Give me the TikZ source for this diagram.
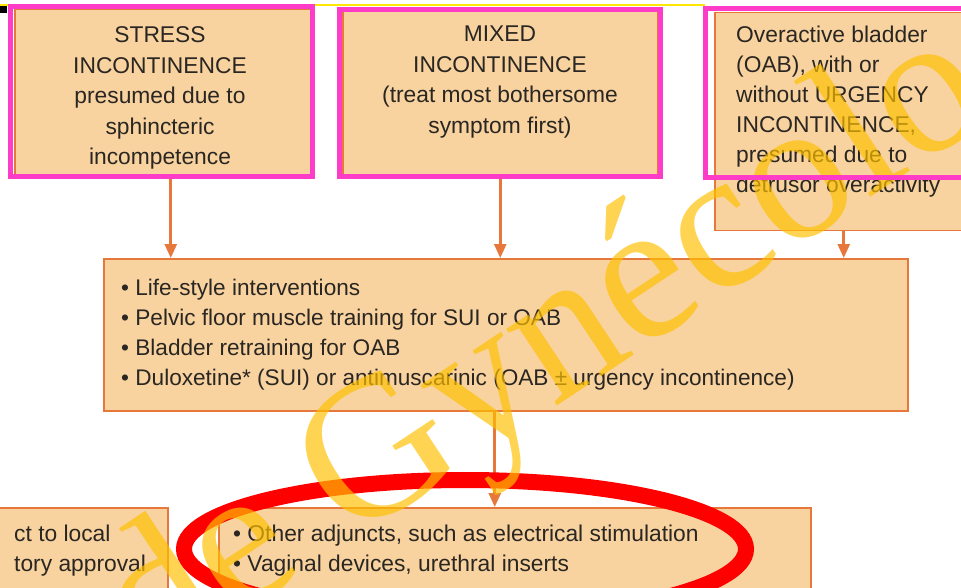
\documentclass[tikz,border=0pt]{standalone}
\usepackage{fontspec}
\setmainfont{Liberation Sans}
\newfontfamily\markfont{Liberation Serif}
\usetikzlibrary{arrows.meta}

\definecolor{boxfill}{HTML}{F8D3A0}
\definecolor{boxline}{HTML}{E6783C}
\definecolor{hlpink}{HTML}{FF3CC8}
\definecolor{txtgray}{HTML}{2A2622}
\definecolor{markyellow}{HTML}{FFC000}

\begin{document}
\begin{tikzpicture}[x=1pt,y=-1pt,
    every node/.style={font=\fontsize{22.8}{30.5}\selectfont,text=txtgray,inner sep=0pt},
    box/.style={draw=boxline,line width=1.5pt,fill=boxfill,anchor=north west},
    hilite/.style={draw=hlpink,line width=5pt},
    flow/.style={draw=boxline,line width=2.6pt,-{Triangle[length=14pt,width=12pt]}}]

    \useasboundingbox (0,0) rectangle (961,588);
    \clip (0,0) rectangle (961,588);
    \fill[white] (0,0) rectangle (961,588);

    % Slide edge
    \draw[yellow!90!orange,line width=1.2pt] (0,5) -- (705,5);
    \fill[black] (0,6) rectangle (7,13);

    % Top row
    \node[box,minimum width=296,minimum height=165] (stress) at (14,9) {};
    \node[box,minimum width=315,minimum height=164] (mixed) at (342,10) {};
    \node[box,minimum width=258,minimum height=218] (oab) at (714,12) {};

    \node[align=center] (stresstxt) at (160,98)
      {STRESS\\INCONTINENCE\\presumed due to\\sphincteric\\incompetence};
    \node[align=center] (mixedtxt) at (500,82)
      {MIXED\\INCONTINENCE\\(treat most bothersome\\symptom first)};
    \node[align=left,anchor=north west,font=\fontsize{22.8}{30}\selectfont] (oabtxt) at (736,26)
      {Overactive bladder\\(OAB), with or\\without URGENCY\\INCONTINENCE,\\presumed due to\\detrusor overactivity};

    % First-line treatment
    \node[box,minimum width=804,minimum height=152] (life) at (103,258) {};
    \node[align=left,anchor=north west,font=\fontsize{22.6}{30}\selectfont] (lifetxt) at (121,279)
      {• Life-style interventions\\• Pelvic floor muscle training for SUI or OAB\\• Bladder retraining for OAB\\• Duloxetine* (SUI) or antimuscarinic (OAB ± urgency incontinence)};

    % Bottom row
    \node[box,minimum width=175,minimum height=100] (approval) at (-8,507) {};
    \node[align=left,anchor=north west,font=\fontsize{22.8}{30}\selectfont] (approvaltxt) at (14,525)
      {ct to local\\tory approval};
    \node[box,minimum width=592,minimum height=100] (adjunct) at (218,507) {};
    \node[align=left,anchor=north west,font=\fontsize{22.8}{30}\selectfont] (adjuncttxt) at (233,525)
      {• Other adjuncts, such as electrical stimulation\\• Vaginal devices, urethral inserts};

    % Arrows
    \draw[flow] ([xshift=8]stress.south) -- ([xshift=8]stress.south |- life.north);
    \draw[flow] (mixed.south) -- (mixed.south |- life.north);
    \draw[flow] (oab.south) -- (oab.south |- life.north);
    \draw[flow] ([xshift=-11]life.south) -- ([xshift=-11]life.south |- adjunct.north);

    % Red circling
    \draw[red,line width=16pt] (465,549) ellipse [x radius=281,y radius=69];

    % Watermark
    \node[rotate=33.5,anchor=base west,font=\markfont\fontsize{200}{200}\selectfont,
      text=markyellow,text opacity=.68] (mark) at (150,675) {de Gynécologie};

    % Pink highlights
    \draw[hilite] (10.5,6.5) rectangle (312,176.5);
    \draw[hilite] (339.5,9.5) rectangle (660.5,176.5);
    \draw[hilite] (705.5,8.5) rectangle (975,177.5);

\end{tikzpicture}
\end{document}
